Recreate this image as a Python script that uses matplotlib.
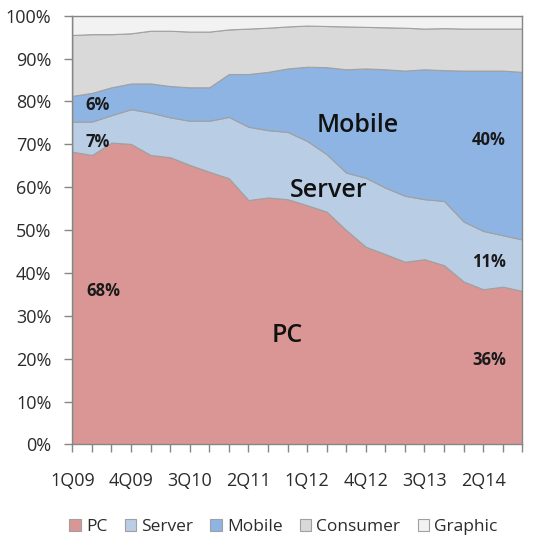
import matplotlib
matplotlib.use("Agg")
import matplotlib.pyplot as plt
import numpy as np

plt.rcParams['font.family'] = ['Open Sans', 'Noto Sans', 'DejaVu Sans']

# quarters 1Q09 .. 4Q14
quarters = ['1Q09', '2Q09', '3Q09', '4Q09', '1Q10', '2Q10', '3Q10', '4Q10',
            '1Q11', '2Q11', '3Q11', '4Q11', '1Q12', '2Q12', '3Q12', '4Q12',
            '1Q13', '2Q13', '3Q13', '4Q13', '1Q14', '2Q14', '3Q14', '4Q14']

# share of each segment (%)
pc = [68.3, 67.5, 70.4, 70.1, 67.5, 67.0, 65.2, 63.6, 62.1, 57.0, 57.6, 57.2,
      55.8, 54.3, 50.0, 46.1, 44.4, 42.6, 43.2, 41.8, 38.0, 36.2, 36.8, 35.8]
server = [7.0, 7.8, 6.4, 8.1, 9.9, 9.3, 10.3, 11.9, 14.3, 17.1, 15.7, 15.7,
          15.0, 13.4, 13.4, 16.1, 15.5, 15.4, 14.0, 15.0, 14.0, 13.6, 12.0, 12.0]
mobile = [6.0, 6.7, 6.5, 6.0, 6.8, 7.3, 7.8, 7.8, 10.0, 12.3, 13.6, 14.8,
          17.3, 20.3, 24.1, 25.5, 27.6, 29.2, 30.3, 30.5, 35.2, 37.4, 38.4, 39.1]
consumer = [14.2, 13.7, 12.4, 11.7, 12.3, 12.9, 13.0, 13.0, 10.4, 10.6, 10.3, 9.8,
            9.6, 9.6, 10.0, 9.7, 9.8, 10.0, 9.5, 9.8, 9.8, 9.8, 9.8, 10.1]
graphic = [4.5, 4.3, 4.3, 4.1, 3.5, 3.5, 3.7, 3.7, 3.2, 3.0, 2.8, 2.5,
           2.3, 2.4, 2.5, 2.6, 2.7, 2.8, 3.0, 2.9, 3.0, 3.0, 3.0, 3.0]

names = ['PC', 'Server', 'Mobile', 'Consumer', 'Graphic']
colors = ['#d99694', '#b9cde5', '#8eb4e3', '#d9d9d9', '#f2f2f2']

fig = plt.figure(figsize=(5.36, 5.46), dpi=100)
ax = fig.add_axes([0.1349, 0.1861, 0.8395, 0.7851])

x = np.arange(len(quarters))
polys = ax.stackplot(x, pc, server, mobile, consumer, graphic,
                     colors=colors, labels=names,
                     edgecolor='#a0a0a0', linewidth=0.8)

ax.set_xlim(0, len(quarters) - 1)
ax.set_ylim(0, 100)

ax.set_yticks(range(0, 101, 10))
ax.set_yticklabels(['%d%%' % v for v in range(0, 101, 10)])
ax.set_xticks(x)
ax.set_xticklabels([q if i % 3 == 0 else '' for i, q in enumerate(quarters)])

gray = '#868686'
for s in ax.spines.values():
    s.set_color(gray)
    s.set_linewidth(1)
ax.tick_params(axis='both', direction='out', length=6, width=1, color=gray,
               labelsize=13, labelcolor='#2b2b2b')
ax.tick_params(axis='x', pad=14)
ax.tick_params(axis='y', pad=9)

# labels inside the areas
bold = dict(fontsize=12, fontweight='bold', color='#1a1a1a', ha='center', va='center')
ax.text(1.6, 35.8, '68%', **bold)
ax.text(1.3, 70.5, '7%', **bold)
ax.text(1.3, 79.2, '6%', **bold)
ax.text(21.3, 71.0, '40%', **bold)
ax.text(21.3, 42.6, '11%', **bold)
ax.text(21.3, 19.7, '36%', **bold)

big = dict(fontsize=18, fontweight='semibold', color='#111111', ha='center', va='center')
ax.text(14.6, 74.5, 'Mobile', **big)
ax.text(13.1, 59.3, 'Server', **big)
ax.text(11.0, 25.5, 'PC', **big)

fig.legend(polys, names, loc='center', bbox_to_anchor=(0.529, 0.035), ncol=5,
           frameon=False, fontsize=12.5, handlelength=0.65, handleheight=0.65,
           handletextpad=0.3, columnspacing=1.0, labelcolor='#2b2b2b')

fig.savefig('out.png', dpi=100)
